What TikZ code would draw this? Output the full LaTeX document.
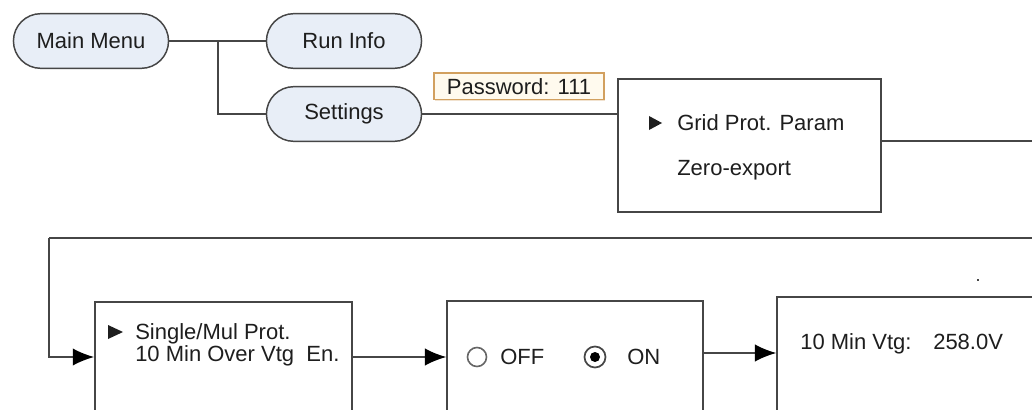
\documentclass[tikz,border=0pt]{standalone}
\usepackage{fontspec}
\setmainfont{Liberation Sans}
\usetikzlibrary{shapes.misc,arrows.meta,shadows}
\definecolor{pillfill}{RGB}{232,238,247}
\definecolor{linegray}{RGB}{70,70,70}
\definecolor{txtgray}{RGB}{30,30,30}
\definecolor{pwfill}{RGB}{255,250,238}
\definecolor{pwdraw}{RGB}{210,160,95}
\tikzset{
  pill/.style={rounded rectangle, draw=linegray, line width=1.1pt, fill=pillfill,
    minimum width=123pt, minimum height=41pt, font=\fontsize{16.5}{19}\selectfont, text=txtgray},
  screen/.style={rectangle, draw=linegray, line width=1.1pt, fill=white},
  txt/.style={inner sep=0pt, text height=11.8pt, text depth=0pt, text=txtgray,
    font=\fontsize{16.5}{19}\selectfont},
  conn/.style={draw=linegray, line width=1.1pt},
  arr/.style={conn, -{Latex[length=16pt,width=13pt,color=black]}},
}
\begin{document}
\begin{tikzpicture}[x=0.75pt,y=-0.75pt]
\useasboundingbox (0,0) rectangle (1032,410);
\clip (0,0) rectangle (1032,410);
\fill[white] (0,0) rectangle (1032,410);

% pills
\node[pill] (main) at (91,41) {Main Menu};
\node[pill] (run) at (344,41) {Run Info};
\node[pill] (set) at (344,114) {Settings};
\coordinate (j1) at (218,41);
\draw[conn] (main.east) -- (j1) -- (run.west);
\draw[conn] (j1) |- (set.west);

% password
\node[draw=pwdraw, line width=1pt, fill=pwfill, drop shadow={shadow xshift=1pt, shadow yshift=-1pt, fill=pwdraw!50, opacity=0.6},
  minimum width=127.5pt, minimum height=20pt, inner sep=0pt, text=txtgray,
  font=\fontsize{16.5}{19}\selectfont] (pw) at (519,86.5) {Password: 111};

% grid screen
\node[screen, minimum width=197pt, minimum height=100pt] (grid) at (749.5,145.5) {};
\draw[conn] (set.east) -- (set.east -| grid.west);
\fill[txtgray] (649,116) -- (662,123) -- (649,130) -- cycle;
\node[txt, anchor=west] (gridt) at (677,123) {Grid Prot. Param};
\node[txt, anchor=west] (zero) at (677,168) {Zero-export};

% lower screens
\node[screen, minimum width=193pt, minimum height=82.5pt] (single) at (223.5,357) {};
\node[screen, minimum width=192pt, minimum height=84pt] (onoff) at (575,357) {};
\node[screen, minimum width=201pt, minimum height=88.5pt] (vtg) at (911,356) {};

% loop connector
\coordinate (r1) at (1045,141);
\coordinate (r2) at (1045,238);
\coordinate (l1) at (49,238);
\draw[conn] (grid.east |- r1) -- (r1) -- (r2) -- (l1);
\draw[arr] (l1) |- (single.west);
\draw[arr] (single.east) -- (onoff.west);
\draw[arr] (onoff.east |- 0,353) -- (vtg.west |- 0,353);

% single text
\fill[txtgray] (108,325) -- (123,332) -- (108,339) -- cycle;
\node[txt, anchor=west] (s1) at (135,332) {Single/Mul Prot.};
\node[txt, anchor=west] (s2) at (135,354) {10 Min Over Vtg\ \ En.};

% on/off text
\draw[gray!80!black, line width=1.2pt] (477,357) circle (9.5);
\node[txt, anchor=west] (off) at (500,357) {OFF};
\draw[linegray, line width=1.3pt] (595,357) circle (10.5);
\fill[black] (595,357) circle (5);
\node[txt, anchor=west] (on) at (627,357) {ON};

% vtg text
\node[txt, anchor=west] (v1) at (800,342) {10 Min Vtg:};
\node[txt, anchor=west] (v2) at (933,342) {258.0V};

% stray dot
\fill[linegray] (977,279) rectangle (979,281);
\end{tikzpicture}
\end{document}
